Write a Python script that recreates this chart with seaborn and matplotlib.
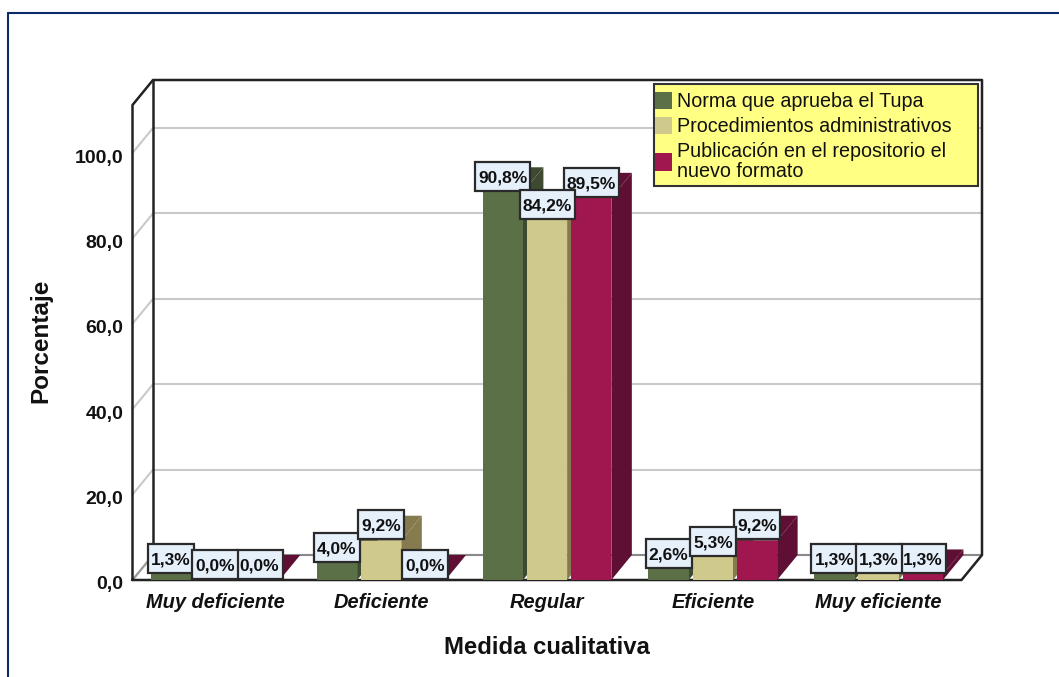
import pandas as pd
import matplotlib
matplotlib.use("Agg")
import matplotlib.pyplot as plt
from matplotlib.lines import Line2D
from matplotlib.patches import Polygon, Rectangle
from matplotlib.transforms import ScaledTranslation
import seaborn as sns

categories = ["Muy deficiente", "Deficiente", "Regular", "Eficiente", "Muy eficiente"]
norma = [1.3, 4.0, 90.8, 2.6, 1.3]
procedimientos = [0.0, 9.2, 84.2, 5.3, 1.3]
publicacion = [0.0, 0.0, 89.5, 9.2, 1.3]
series_names = ["Norma que aprueba el Tupa", "Procedimientos administrativos",
                "Publicación en el repositorio el\nnuevo formato"]
y_ticks = [0, 20, 40, 60, 80, 100]
y_ticklabels = ["0,0", "20,0", "40,0", "60,0", "80,0", "100,0"]

front_colors = ["#5C7047", "#CFC98B", "#A01750"]
side_colors = ["#3D4A2F", "#857B4F", "#5E0F33"]

W, H = 1059, 677
sns.set_theme(style="white")
plt.rcParams["font.family"] = ["Liberation Sans", "DejaVu Sans"]

fig = plt.figure(figsize=(W / 100, H / 100), dpi=100, facecolor="white")
L, R, B, T = 132.5, 961.5, 580, 105
ax = fig.add_axes([L / W, 1 - B / H, (R - L) / W, (B - T) / H])

df = pd.DataFrame({
    "cat": categories * 3,
    "serie": [n for n in series_names for _ in categories],
    "val": norma + procedimientos + publicacion,
})
sns.barplot(data=df, x="cat", y="val", hue="serie", order=categories,
            hue_order=series_names, palette=front_colors, width=0.8, gap=0.09,
            saturation=1, linewidth=0, errorbar=None, ax=ax, zorder=3)

ax.set_xlim(-0.5, 4.5)
ymax = (B - T) / 4.27
ax.set_ylim(0, ymax)
px_x = 1 / ((R - L) / 5)
px_y = 1 / 4.27
DX, DY = 20.5 * px_x, 25 * px_y
for s in ax.spines.values():
    s.set_visible(False)

# 3D walls
x0, x1 = -0.5, 4.5
wall = dict(color="#C9C9C9", lw=1.5, zorder=1, clip_on=False, solid_capstyle="round")
for t in y_ticks:
    ax.plot([x0 + DX, x1 + DX], [t + DY, t + DY], **wall)
    ax.plot([x0, x0 + DX], [t, t + DY], **wall)
ax.plot([x0 + DX, x1 + DX], [DY, DY], color="#8A8A8A", lw=1.5, zorder=1.5, clip_on=False)
dark = dict(color="#222222", lw=1.8, zorder=2, clip_on=False)
ax.plot([x0, x0, x0 + DX, x1 + DX, x1 + DX, x1, x0],
        [0, ymax, ymax + DY, ymax + DY, DY, 0, 0], **dark)
ax.plot([x0 + DX, x0 + DX], [DY, ymax + DY], **dark)
ax.plot([x0, x0 + DX], [0, DY], color="#9A9A9A", lw=1.5, zorder=1.6, clip_on=False)

# 3D faces and labels
series_values = [norma, procedimientos, publicacion]
for i, (cont, vals) in enumerate(zip(ax.containers, series_values)):
    for bar, v in zip(cont, vals):
        xl, w = bar.get_x(), bar.get_width()
        xr = xl + w
        ax.add_patch(Polygon([(xr, 0), (xr + DX, DY), (xr + DX, v + DY), (xr, v)],
                             closed=True, fc=side_colors[i], ec="none", zorder=2.5 + i * 0.01, clip_on=False))
        ax.add_patch(Polygon([(xl, v), (xr, v), (xr + DX, v + DY), (xl + DX, v + DY)],
                             closed=True, fc=side_colors[i], ec="none", zorder=2.5 + i * 0.01, clip_on=False))
        txt = f"{v:.1f}%".replace(".", ",")
        bw = (55 if len(txt) > 4 else 46) * px_x
        bh = 29 * px_y
        cx = xl + w / 2
        z = 6 if i == 1 else 5
        ax.add_patch(Rectangle((cx - bw / 2, v + 0.3), bw, bh, fc="#E6F0FB", ec="#2A2A2A",
                               lw=1.6, zorder=z, clip_on=False))
        ax.text(cx, v + 0.3 + bh / 2, txt, ha="center", va="center_baseline", fontsize=12.5,
                fontweight="bold", color="#111111", zorder=z + 0.1, clip_on=False)

ax.set_yticks(y_ticks)
ax.set_yticklabels(y_ticklabels, fontsize=14, fontweight="bold", color="#111111")
ax.set_xticks(range(len(categories)))
ax.set_xticklabels(categories, fontsize=14.4, fontweight="bold", fontstyle="italic", color="#111111")
ax.tick_params(axis="y", length=0, pad=6.5)
ax.tick_params(axis="x", length=0, pad=9)
shift = ScaledTranslation(0, -3 / 100, fig.dpi_scale_trans)
for tick in ax.yaxis.get_major_ticks():
    tick.label1.set_transform(tick.label1.get_transform() + shift)
ax.set_xlabel("")
ax.set_ylabel("")
fig.text(547 / W, 1 - 648 / H, "Medida cualitativa", ha="center", va="center",
         fontsize=17.2, fontweight="bold", color="#111111")
fig.text(40.5 / W, 1 - 341 / H, "Porcentaje", ha="center", va="center", rotation=90,
         fontsize=17.5, fontweight="bold", color="#111111")

# legend panel and entries
ax.add_patch(Rectangle((654 / W, 1 - 186 / H), 324 / W, 102 / H, transform=fig.transFigure,
                       fc="#FFFF84", ec="#333333", lw=1.5, zorder=7.5, clip_on=False))
handles, labels = ax.get_legend_handles_labels()
leg = ax.legend(handles, labels, loc="upper left",
                bbox_to_anchor=(649 / W, 1 - 86 / H), bbox_transform=fig.transFigure,
                frameon=False, fontsize=14.2, handlelength=0.9, handleheight=1.0, handletextpad=0.22,
                borderpad=0.28, labelspacing=0.28, borderaxespad=0, labelcolor="#111111")
for t in leg.get_texts():
    t.set_linespacing(1.1)
leg.set_zorder(8)

# outer frame
navy = dict(color="#0B2A6B", lw=1.5, transform=fig.transFigure)
fig.add_artist(Line2D([8 / W, 8 / W], [0, 1 - 13 / H], **navy))
fig.add_artist(Line2D([8 / W, 1], [1 - 13 / H, 1 - 13 / H], **navy))

fig.savefig("out.png", dpi=100)
